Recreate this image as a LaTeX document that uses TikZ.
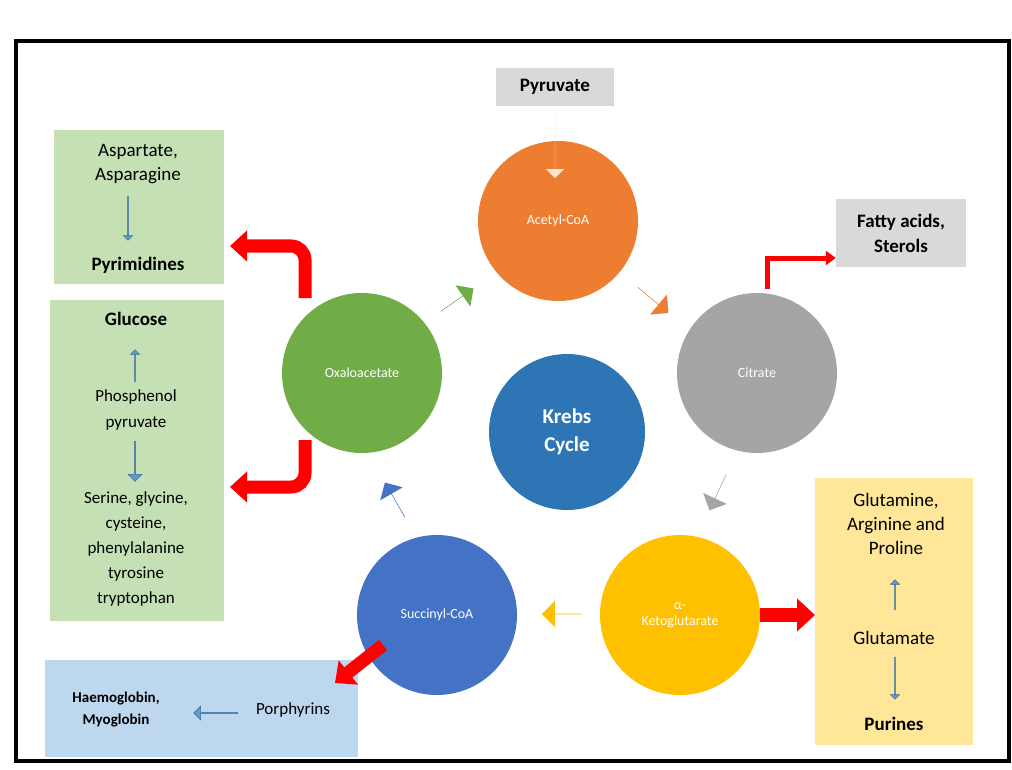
\documentclass[tikz,border=0pt]{standalone}
\usepackage{fontspec}
\setmainfont{Carlito}
\usetikzlibrary{shapes.arrows,arrows.meta}
\definecolor{cOr}{HTML}{ED7D31}
\definecolor{cGr}{HTML}{A5A5A5}
\definecolor{cYe}{HTML}{FFC000}
\definecolor{cBl}{HTML}{4472C4}
\definecolor{cGn}{HTML}{70AD47}
\definecolor{cKr}{HTML}{2E75B6}
\definecolor{bGn}{HTML}{C5E0B4}
\definecolor{bYe}{HTML}{FFE699}
\definecolor{bBl}{HTML}{BDD7EE}
\definecolor{bGr}{HTML}{D9D9D9}
\definecolor{aBl}{HTML}{5B9BD5}
\begin{document}
\begin{tikzpicture}[x=1pt,y=-1pt,
 circ/.style={circle,minimum size=160pt,inner sep=0pt,text=white,font=\fontsize{14}{16}\selectfont,align=center},
 box/.style={inner sep=0pt,anchor=north west,font=\fontsize{19}{24}\selectfont,align=center},
 blk/.style={single arrow,single arrow head extend=9pt,minimum width=26pt,minimum height=40pt,inner sep=0pt,draw=none},
 sml/.style={single arrow,single arrow head extend=3pt,minimum width=9pt,minimum height=32pt,inner sep=0pt,fill=aBl,draw=aBl!70!black,line width=0.5pt},
 red/.style={draw=red,line width=13pt,rounded corners=14pt,-{Triangle[width=30pt,length=17pt]}},
 lbl/.style={font=\fontsize{19}{24}\selectfont,align=center}]
\useasboundingbox (0,0) rectangle (1012,770);
\fill[white] (0,0) rectangle (1012,770);
\draw[line width=4pt] (16,41) rectangle (1009,761);
% boxes
\fill[bGn] (54,130) rectangle (224,284);
\fill[bGn] (50,300) rectangle (224,621);
\fill[bYe] (815,478) rectangle (973,745);
\fill[bBl] (45,660) rectangle (358,757);
\node[fill=bGr,minimum width=118pt,minimum height=38pt,inner sep=0pt,font=\bfseries\fontsize{19}{24}\selectfont] (pyr) at (555,87) {Pyruvate};
\node[fill=bGr,minimum width=130pt,minimum height=67pt,inner sep=0pt,align=center,font=\bfseries\fontsize{19}{25}\selectfont] (fat) at (901,233) {Fatty acids,\\Sterols};
% circles
\node[circ,fill=cOr] (ace) at (558,221) {Acetyl-CoA};
\node[circ,fill=cGr] (cit) at (757,373) {Citrate};
\node[circ,fill=cYe] (akg) at (680,615) {α-\\Ketoglutarate};
\node[circ,fill=cBl] (suc) at (437,615) {Succinyl-CoA};
\node[circ,fill=cGn] (oxa) at (362,373) {Oxaloacetate};
\node[circ,fill=cKr,minimum size=156pt,font=\bfseries\fontsize{21}{28}\selectfont] (krebs) at (567,432) {Krebs\\Cycle};
% pyruvate arrow
\node[single arrow,single arrow head extend=8pt,minimum width=18pt,minimum height=66pt,inner sep=0pt,fill=orange!20,rotate=-90] (pa) at (555,145) {};
% cycle arrows
\node[blk,fill=cGn,rotate=35] (g1) at (457,300) {};
\node[blk,fill=cOr,rotate=-40] (o1) at (653,300) {};
\node[blk,fill=cGr,rotate=-115] (r1) at (718,492) {};
\node[blk,fill=cYe,rotate=180] (y1) at (562,614) {};
\node[blk,fill=cBl,rotate=120] (b1) at (395,500) {};
% red arrows
\coordinate (o1s) at (305,298); \coordinate (o1m) at (305,246); \coordinate (o1e) at (230,246);
\draw[red] (o1s) -- (o1m) -- (o1e);
\coordinate (o2s) at (305,440); \coordinate (o2m) at (305,487); \coordinate (o2e) at (230,487);
\draw[red] (o2s) -- (o2m) -- (o2e);
\coordinate (cs) at (767,289); \coordinate (cm) at (767,258);
\draw[draw=red,line width=5pt,-{Triangle[width=14pt,length=10pt]}] (cs) -- (cm) -- (fat.west|-cm);
\draw[draw=red,line width=14pt,-{Triangle[width=32pt,length=18pt]}] (akg.east) -- (815,615);
\coordinate (ss) at (383,645); \coordinate (se) at (335,683);
\draw[draw=red,line width=13pt,-{Triangle[width=30pt,length=17pt]}] (ss) -- (se);
% box texts
\node[lbl] (asp) at (138,164) {Aspartate,\\Asparagine};
\node[lbl,font=\bfseries\fontsize{19}{24}\selectfont] (pyri) at (138,265) {Pyrimidines};
\node[sml,rotate=-90,minimum height=44pt] (a1) at (128,218) {};
\node[lbl,font=\bfseries\fontsize{19}{24}\selectfont] (glu) at (136,319) {Glucose};
\node[sml,rotate=90] (a2) at (135,366) {};
\node[lbl,font=\fontsize{17}{26}\selectfont] (php) at (136,410) {Phosphenol\\pyruvate};
\node[sml,rotate=-90,minimum height=40pt,minimum width=14pt] (a3) at (135,461) {};
\node[lbl,font=\fontsize{17}{25}\selectfont] (ser) at (136,549) {Serine, glycine,\\cysteine,\\phenylalanine\\tyrosine\\tryptophan};
\node[lbl] (gap) at (896,524) {Glutamine,\\Arginine and\\Proline};
\node[sml,rotate=90,minimum height=30pt] (a4) at (895,595) {};
\node[lbl] (gm) at (894,638) {Glutamate};
\node[sml,rotate=-90,minimum height=42pt] (a5) at (895,678) {};
\node[lbl,font=\bfseries\fontsize{19}{24}\selectfont] (pur) at (894,724) {Purines};
\node[lbl,font=\fontsize{17}{22}\selectfont] (por) at (293,710) {Porphyrins};
\node[sml,rotate=180,minimum height=44pt,minimum width=14pt] (a6) at (216,713) {};
\node[lbl,font=\bfseries\fontsize{15}{22}\selectfont] (hae) at (116,710) {Haemoglobin,\\Myoglobin};
\end{tikzpicture}
\end{document}
